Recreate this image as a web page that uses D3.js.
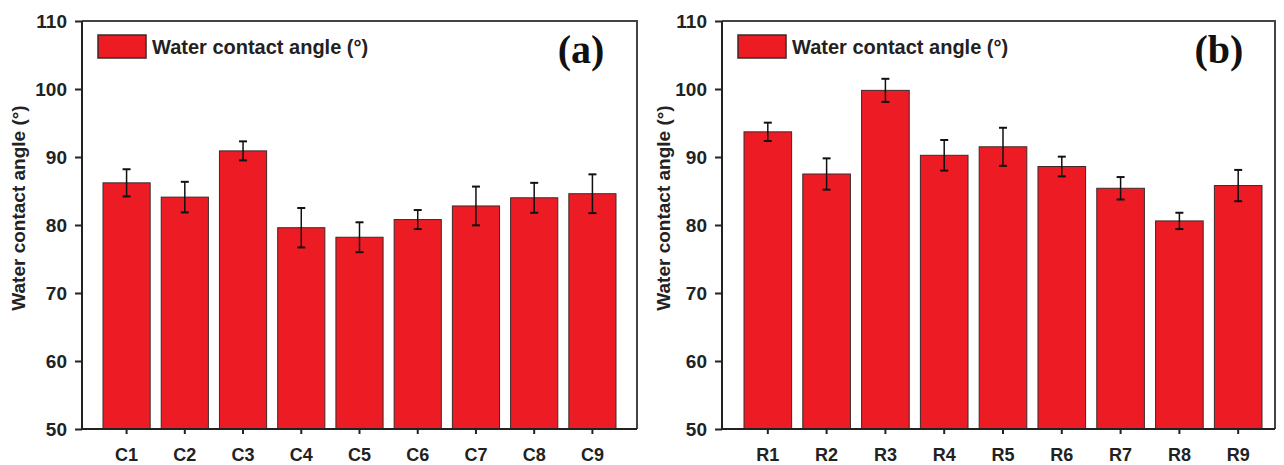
<!DOCTYPE html>
<html>
<head>
<meta charset="utf-8">
<script src="https://cdn.jsdelivr.net/npm/d3@7"></script>
<style>
  body { margin: 0; background: #fff; }
  svg { display: block; font-family: "Liberation Sans", Arial, sans-serif; }
</style>
</head>
<body>
<svg id="chart" width="1284" height="465"></svg>
<script>
const catsA = ["C1", "C2", "C3", "C4", "C5", "C6", "C7", "C8", "C9"];
const valsA = [86.2, 84.1, 90.9, 79.6, 78.2, 80.8, 82.8, 84.0, 84.6];
const errA = [2.0, 2.25, 1.4, 2.9, 2.2, 1.4, 2.85, 2.2, 2.85];

const catsB = ["R1", "R2", "R3", "R4", "R5", "R6", "R7", "R8", "R9"];
const valsB = [93.7, 87.5, 99.8, 90.25, 91.5, 88.6, 85.4, 80.6, 85.8];
const errB = [1.35, 2.3, 1.7, 2.25, 2.8, 1.45, 1.65, 1.2, 2.3];

const yTicks = [50, 60, 70, 80, 90, 100, 110];
const legendLabel = "Water contact angle (°)";
const yTitle = "Water contact angle (°)";

const RED = "#ed1c24";
const svg = d3.select("#chart");

// one panel = frame + bars + error bars + legend + label
const drawPanel = (cfg) => {
  const { cats, vals, errs, left, right, barLeft, barRight, tag, titleX } = cfg;
  const top = 21, bottom = 429;

  const x = d3.scaleBand()
    .domain(cats)
    .range([barLeft, barRight])
    .paddingInner(0.19)
    .paddingOuter(0);

  const y = d3.scaleLinear().domain([50, 110]).range([bottom, top]);

  const g = svg.append("g");

  // bars
  g.append("g")
    .selectAll("rect")
    .data(cats)
    .join("rect")
    .attr("x", (d) => x(d))
    .attr("y", (d, i) => y(vals[i]))
    .attr("width", x.bandwidth())
    .attr("height", (d, i) => y(50) - y(vals[i]))
    .attr("fill", RED)
    .attr("stroke", "#3a2a2a")
    .attr("stroke-width", 1);

  // error bars
  const eb = g.append("g")
    .selectAll("g")
    .data(cats)
    .join("g")
    .attr("transform", (d) => `translate(${x(d) + x.bandwidth() / 2},0)`);
  eb.append("line")
    .attr("y1", (d, i) => y(vals[i] + errs[i]))
    .attr("y2", (d, i) => y(vals[i] - errs[i]))
    .attr("stroke", "#111")
    .attr("stroke-width", 1.5);
  [1, -1].forEach((s) => {
    eb.append("line")
      .attr("x1", -4).attr("x2", 4)
      .attr("y1", (d, i) => y(vals[i] + s * errs[i]))
      .attr("y2", (d, i) => y(vals[i] + s * errs[i]))
      .attr("stroke", "#111")
      .attr("stroke-width", 2);
  });

  // frame top/right
  g.append("path")
    .attr("d", `M${left},${top}H${right}V${bottom}`)
    .attr("fill", "none")
    .attr("stroke", "#444")
    .attr("stroke-width", 2);

  // y axis
  g.append("g")
    .attr("transform", `translate(${left},0)`)
    .call(d3.axisLeft(y).tickValues(yTicks).tickSize(7).tickPadding(8))
    .call((a) => a.select(".domain").attr("stroke", "#222").attr("stroke-width", 2)
      .attr("d", `M0,${top}V${bottom}`))
    .call((a) => a.selectAll(".tick line").attr("stroke", "#222").attr("stroke-width", 2))
    .call((a) => a.selectAll(".tick text")
      .attr("font-family", "Liberation Sans, Arial, sans-serif")
      .attr("font-size", 19).attr("font-weight", "bold").attr("fill", "#222"));

  // x axis
  g.append("g")
    .attr("transform", `translate(0,${bottom})`)
    .call(d3.axisBottom(x).tickSize(5).tickPadding(14))
    .call((a) => a.select(".domain").attr("stroke", "#222").attr("stroke-width", 2)
      .attr("d", `M${left},0H${right}`))
    .call((a) => a.selectAll(".tick line").attr("stroke", "#222").attr("stroke-width", 2))
    .call((a) => a.selectAll(".tick text")
      .attr("font-family", "Liberation Sans, Arial, sans-serif")
      .attr("font-size", 18).attr("font-weight", "bold").attr("fill", "#222"));

  // y title
  g.append("text")
    .attr("transform", `translate(${titleX},208) rotate(-90)`)
    .attr("text-anchor", "middle")
    .attr("font-size", 19)
    .attr("font-weight", "bold")
    .attr("fill", "#222")
    .text(yTitle);

  // legend
  g.append("rect")
    .attr("x", left + 16).attr("y", 35)
    .attr("width", 48).attr("height", 23)
    .attr("fill", RED)
    .attr("stroke", "#3a2a2a")
    .attr("stroke-width", 1.5);
  g.append("text")
    .attr("x", left + 70).attr("y", 54)
    .attr("font-size", 20)
    .attr("font-weight", "bold")
    .attr("fill", "#222")
    .text(legendLabel);

  // panel tag
  g.append("text")
    .attr("x", right - 56).attr("y", 63)
    .attr("text-anchor", "middle")
    .attr("font-family", "Liberation Serif, 'Times New Roman', serif")
    .attr("font-size", 40)
    .attr("font-weight", "bold")
    .attr("fill", "#111")
    .text(tag);
};

drawPanel({
  cats: catsA, vals: valsA, errs: errA,
  left: 82, right: 637, barLeft: 103, barRight: 616,
  tag: "(a)", titleX: 25
});

drawPanel({
  cats: catsB, vals: valsB, errs: errB,
  left: 722, right: 1275, barLeft: 744, barRight: 1262,
  tag: "(b)", titleX: 670
});
</script>
</body>
</html>
